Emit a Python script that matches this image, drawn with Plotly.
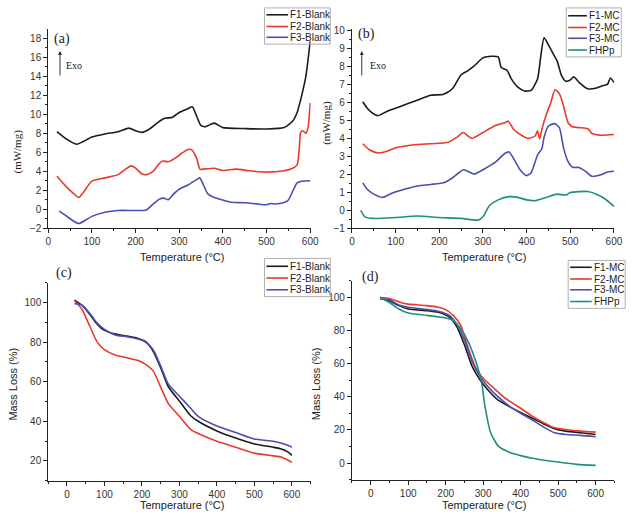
import plotly.graph_objects as go

W, H = 644, 514
def px(x): return x / W
def py(y): return 1 - y / H

# ---------------- Panel (a): DSC blanks ----------------
a_f1_t = [20,40,65,100,130,160,185,200,215,230,250,265,285,300,320,330,340,350,360,380,400,450,500,540,560,570,580,590,600]
a_f1_v = [8.17,7.45,6.85,7.6,7.93,8.17,8.55,8.27,8.1,8.4,9.1,9.55,9.7,10.2,10.6,10.8,9.8,8.8,8.7,9.07,8.6,8.5,8.45,8.6,9.3,10.2,11.9,14.0,17.7]
a_f2_t = [20,40,60,70,80,100,130,160,175,190,200,215,225,240,255,262,275,290,305,320,330,340,348,360,380,400,430,460,500,540,560,570,575,578,583,590,595,600]
a_f2_v = [3.46,2.43,1.57,1.23,1.74,2.95,3.3,3.64,4.15,4.56,4.32,3.7,3.64,3.98,4.84,5.08,5.0,5.35,5.87,6.3,6.2,5.35,4.2,4.25,4.32,4.08,4.22,4.05,3.9,4.05,4.32,4.67,6.4,8.1,8.27,8.0,8.6,11.2]
a_f3_t = [25,40,55,70,85,100,130,160,200,225,240,255,265,275,285,300,320,340,347,355,365,380,400,420,450,480,500,510,520,540,550,560,570,580,600]
a_f3_v = [-0.21,-0.66,-1.17,-1.52,-1.17,-0.76,-0.32,-0.14,-0.14,-0.08,0.54,1.06,1.16,1.0,1.5,2.1,2.54,3.12,3.3,2.6,1.64,1.23,0.96,0.72,0.68,0.54,0.47,0.6,0.55,0.7,0.96,1.9,2.78,2.95,3.0]

# ---------------- Panel (b): DSC microcapsules ----------------
b_f1_t = [25,35,50,60,80,100,130,160,180,210,230,250,265,280,300,320,335,342,355,365,380,395,410,425,432,440,450,460,470,480,490,500,508,520,540,560,575,585,592,600]
b_f1_v = [6.03,5.67,5.35,5.26,5.49,5.67,5.94,6.21,6.39,6.45,6.75,7.53,7.75,8.02,8.47,8.56,8.52,7.93,7.78,7.3,6.84,6.63,6.66,7.3,8.47,9.59,9.19,8.74,8.29,7.48,7.17,7.24,7.42,7.11,6.75,6.79,6.93,6.99,7.35,7.11]
b_f2_t = [25,40,60,80,100,150,200,220,240,255,265,275,300,330,350,358,370,390,405,420,425,430,435,445,455,465,475,485,495,505,520,540,550,570,600]
b_f2_v = [3.69,3.36,3.18,3.27,3.47,3.65,3.72,3.78,4.05,4.32,4.14,3.99,4.32,4.72,4.86,4.95,4.5,4.14,3.99,4.14,4.41,3.96,4.5,5.31,5.94,6.7,6.48,5.76,4.86,4.64,4.59,4.53,4.26,4.17,4.21]
b_f3_t = [25,35,50,70,90,120,150,180,210,230,255,265,280,300,330,350,360,370,385,400,410,425,435,440,450,465,475,485,495,505,520,535,550,570,585,600]
b_f3_v = [1.52,1.16,0.89,0.71,0.93,1.16,1.34,1.43,1.52,1.79,2.25,2.16,2.01,2.25,2.7,3.15,3.24,2.88,2.25,1.92,2.07,3.06,3.42,4.05,4.68,4.81,4.59,3.42,2.7,2.39,2.37,2.16,1.88,1.97,2.12,2.16]
b_fh_t = [20,30,50,100,150,200,250,290,300,315,335,360,380,400,420,450,470,490,500,540,560,580,600]
b_fh_v = [-0.01,-0.37,-0.46,-0.41,-0.33,-0.41,-0.46,-0.55,-0.37,0.26,0.57,0.75,0.71,0.57,0.53,0.75,0.89,0.84,0.98,1.04,0.89,0.62,0.21]

# ---------------- Panel (c): TGA blanks ----------------
c_t = [20,40,60,80,100,130,160,190,210,230,250,270,300,330,350,400,450,500,550,570,590,600]
c_f1_v = [101.3,98.7,94.3,89.3,86.0,84.1,83.1,81.9,80.3,75.4,67.1,57.6,50.2,42.8,40.0,35.1,31.5,28.5,26.9,26.1,24.4,22.8]
c_f2_v = [101.0,96.7,88.5,80.3,76.2,73.4,72.1,70.8,68.8,65.5,57.3,49.1,42.5,35.9,33.8,29.9,26.9,23.9,22.5,22.0,20.3,19.2]
c_f3_v = [99.5,98.8,94.8,89.8,86.5,83.6,82.8,81.6,80.0,76.2,68.0,58.9,52.7,46.6,42.5,37.6,34.3,31.0,29.9,29.0,27.7,26.9]

# ---------------- Panel (d): TGA microcapsules ----------------
d_t = [25,50,75,100,150,180,210,230,250,270,290,310,340,370,400,430,460,490,520,560,600]
d_f1_v = [99.4,98.0,95.1,93.1,92.1,91.1,88.2,82.3,71.5,58.7,50.8,44.9,38.0,34.1,30.5,27.2,23.8,20.7,19.3,18.3,17.3]
d_f2_t = [25,50,80,100,150,180,200,220,240,260,280,300,330,360,400,430,460,490,520,560,600]
d_f2_v = [100.0,99.4,97.0,96.0,95.1,94.1,92.7,89.2,83.3,69.5,57.7,51.2,44.9,39.0,33.1,28.5,24.6,21.3,20.3,19.3,18.7]
d_f3_v = [99.4,98.6,95.5,94.1,92.7,91.7,89.2,83.7,74.4,61.6,52.8,46.9,40.0,34.4,30.1,26.2,21.9,18.3,17.3,16.7,15.9]
d_fh_t = [25,50,75,100,150,200,220,240,260,280,295,305,320,340,370,400,450,500,550,600]
d_fh_v = [100.0,97.0,93.1,90.7,89.2,87.6,86.2,81.3,73.4,61.6,49.8,34.1,18.3,10.4,6.5,4.5,2.2,0.6,-0.8,-1.4]

blank_names = ["F1-Blank", "F2-Blank", "F3-Blank"]
mc_names = ["F1-MC", "F2-MC", "F3-MC", "FHPp"]

BLACK, RED, BLUE, TEAL = "#1b1b1b", "#e8392c", "#4a4fb2", "#1f8f7f"
COLORS = [BLACK, RED, BLUE, TEAL]

fig = go.Figure()

def add(t, v, name, color, ax):
    fig.add_trace(go.Scatter(x=t, y=v, mode="lines", name=name, showlegend=False,
                             line=dict(color=color, width=1.6, shape="spline", smoothing=0.6),
                             xaxis="x" + ax, yaxis="y" + ax))

add(a_f1_t, a_f1_v, blank_names[0], BLACK, "")
add(a_f2_t, a_f2_v, blank_names[1], RED, "")
add(a_f3_t, a_f3_v, blank_names[2], BLUE, "")
add(b_f1_t, b_f1_v, mc_names[0], BLACK, "2")
add(b_f2_t, b_f2_v, mc_names[1], RED, "2")
add(b_f3_t, b_f3_v, mc_names[2], BLUE, "2")
add(b_fh_t, b_fh_v, mc_names[3], TEAL, "2")
add(c_t, c_f1_v, blank_names[0], BLACK, "3")
add(c_t, c_f2_v, blank_names[1], RED, "3")
add(c_t, c_f3_v, blank_names[2], BLUE, "3")
add(d_t, d_f1_v, mc_names[0], BLACK, "4")
add(d_f2_t, d_f2_v, mc_names[1], RED, "4")
add(d_t, d_f3_v, mc_names[2], BLUE, "4")
add(d_fh_t, d_fh_v, mc_names[3], TEAL, "4")

tickfont = dict(family="Liberation Sans, Arial", size=10, color="#333")
def xax(dom, rng, anchor):
    return dict(domain=dom, range=rng, anchor=anchor, showgrid=False, zeroline=False,
                showline=True, linecolor="#222", linewidth=1, ticks="outside", ticklen=4,
                tickcolor="#222", dtick=100, tick0=0, tickfont=tickfont,
                minor=dict(dtick=50, ticks="outside", ticklen=2, tickcolor="#222"))
def yax(dom, rng, dt, mdt, anchor):
    return dict(domain=dom, range=rng, anchor=anchor, showgrid=False, zeroline=False,
                showline=True, linecolor="#222", linewidth=1, ticks="outside", ticklen=4,
                tickcolor="#222", dtick=dt, tick0=0, tickfont=tickfont,
                minor=dict(dtick=mdt, ticks="outside", ticklen=2, tickcolor="#222"))

top_dom = [py(228), py(25)]
fig.update_layout(
    width=W, height=H, margin=dict(l=0, r=0, t=0, b=0),
    plot_bgcolor="white", paper_bgcolor="white", showlegend=False,
    xaxis=xax([px(46), px(313)], [0, 601], "y"),
    yaxis=yax(top_dom, [-2, 18.95], 2, 1, "x"),
    xaxis2=xax([px(355), px(622)], [0, 601], "y2"),
    yaxis2=yax(top_dom, [-1, 10.05], 1, 0.5, "x2"),
    xaxis3=xax([px(46), px(313)], [-50, 650], "y3"),
    yaxis3=yax([py(486), py(284)], [10, 110], 20, 10, "x3"),
    xaxis4=xax([px(355), px(622)], [-50, 650], "y4"),
    yaxis4=yax([py(485), py(282)], [-10, 110], 20, 10, "x4"),
)

serif = "Liberation Serif, Times New Roman"
sans = "Liberation Sans, Arial"
ann = []
shapes = []
def txt(x, y, s, fam, size, angle=0, xanchor="center", color="#222", pad=1):
    ann.append(dict(x=px(x), y=py(y), xref="paper", yref="paper", text=s, showarrow=False,
                    font=dict(family=fam, size=size, color=color), textangle=angle,
                    xanchor=xanchor, yanchor="middle", borderpad=pad))

# hand-built compact legends (box, sample line, label)
def legend_box(x0, y0, x1, y1, line_x0, line_x1, ys, names):
    shapes.append(dict(type="rect", xref="paper", yref="paper", x0=px(x0), x1=px(x1),
                       y0=py(y1), y1=py(y0), line=dict(color="#b0b0b0", width=1)))
    for yy, nm, col in zip(ys, names, COLORS):
        shapes.append(dict(type="line", xref="paper", yref="paper", x0=px(line_x0), x1=px(line_x1),
                           y0=py(yy), y1=py(yy), line=dict(color=col, width=1.6)))
        txt(line_x1 + 1, yy, nm, sans, 10, xanchor="left", pad=0)

legend_box(266, 3, 333, 40, 268, 290, [10, 22, 33], blank_names)
legend_box(573, 3, 629, 53, 575, 594, [11, 23, 34, 46], mc_names)
legend_box(266, 259, 333, 298, 268, 290, [267, 279, 291], blank_names)
legend_box(575, 261, 633, 310, 577, 599, [268, 280, 291, 303], mc_names)

txt(60, 35, "(a)", serif, 14)
txt(370, 30, "(b)", serif, 14)
txt(62, 274, "(c)", serif, 14)
txt(374, 278, "(d)", serif, 14)
txt(62, 62, "Exo", serif, 10, xanchor="left")
txt(371, 62, "Exo", serif, 10, xanchor="left")
txt(15, 150, "(mW/mg)", serif, 11, angle=-90)
txt(329, 120, "(mW/mg)", serif, 11, angle=-90)
txt(10, 387, "Mass Loss (%)", sans, 11, angle=-90)
txt(318, 387, "Mass Loss (%)", sans, 11, angle=-90)
txt(182, 257, "Temperature (°C)", sans, 11)
txt(489, 257, "Temperature (°C)", sans, 11)
txt(182, 511, "Temperature (°C)", sans, 11)
txt(489, 511, "Temperature (°C)", sans, 11)

for x0 in (58, 365):
    ann.append(dict(x=px(x0), y=py(47), xref="paper", yref="paper", ax=0, ay=26,
                    axref="pixel", ayref="pixel", text="", showarrow=True,
                    arrowhead=2, arrowsize=0.8, arrowwidth=1, arrowcolor="#333"))

fig.update_layout(annotations=ann, shapes=shapes)
fig.write_html("out.html")
